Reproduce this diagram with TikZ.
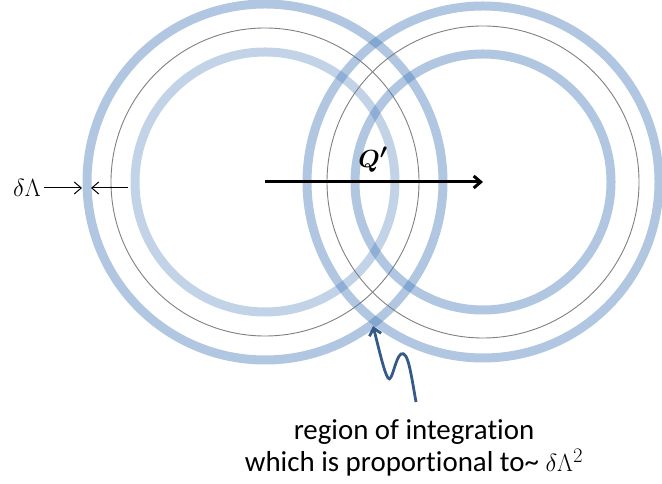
\documentclass[tikz,border=0pt]{standalone}
\usepackage{amsmath,bm}
\usepackage{fontspec}
\setmainfont{Carlito}[Ligatures=NoCommon]
\usetikzlibrary{arrows.meta,positioning}
\definecolor{ringblue}{HTML}{4F81BD}
\definecolor{squiggle}{HTML}{345A8A}

\begin{document}
\begin{tikzpicture}[x=1bp,y=1bp,>={Straight Barb[length=7bp,width=12bp]},
  ring/.style={draw=ringblue,draw opacity=0.45,line width=9bp},
  faintring/.style={draw=ringblue,draw opacity=0.35,line width=9bp},
  guide/.style={draw=black!50,line width=0.9bp},
  label/.style={font=\fontsize{29}{32}\selectfont}]
\useasboundingbox (0,0) rectangle (662,484);
\coordinate (cL) at (265,302);
\coordinate (cR) at (483,302);
% left shell
\draw[ring] (cL) circle(178);
\draw[guide] (cL) circle(154);
\draw[faintring] (cL) circle(130);
% right shell, shifted by Q'
\draw[ring] (cR) circle(176);
\draw[guide] (cR) circle(156);
\draw[ring] (cR) circle(128);
\draw[->,line width=3bp] (cL)--(cR);
\node[label] (Q) at (373,324) {$\bm{Q'}$};
% width of the shell
\node[label,font=\fontsize{30}{32}\selectfont] (dL) at (27,296) {$\delta\Lambda$};
\coordinate (outerL) at (82,296);
\coordinate (guideL) at (128,296);
\coordinate (innerL) at (91,296);
\draw[->,line width=1bp] (dL.east)--(outerL);
\draw[->,line width=1bp] (guideL)--(innerL);
% overlap of the two shells
\coordinate (region) at (373,158);
\coordinate (tail) at (416,82);
\draw[->,squiggle,line width=2.8bp] (tail) .. controls (411,110) and (408,134) .. (401,130)
  .. controls (395,126) and (392,100) .. (388,106) .. controls (384,112) and (379,135) .. (region);
\node[label,align=center] (note) at (414,36) {region of integration\\which is proportional to\textasciitilde{} $\delta\Lambda^2$};
\end{tikzpicture}
\end{document}
